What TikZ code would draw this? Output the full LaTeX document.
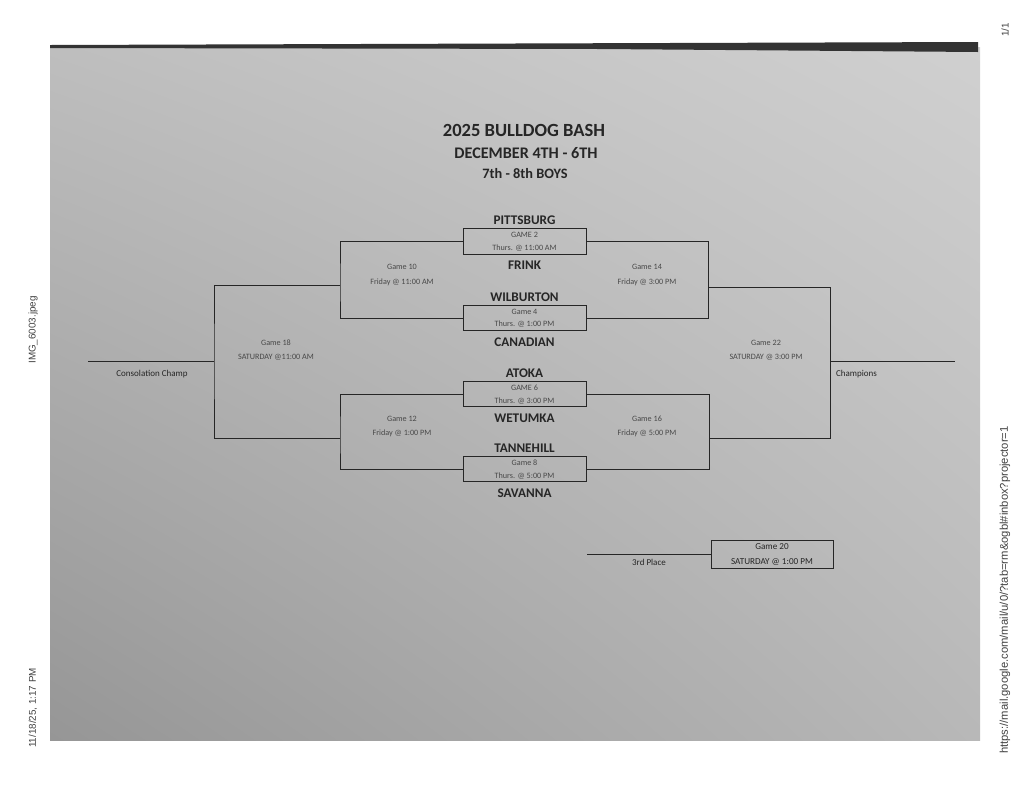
\documentclass[tikz,border=0pt]{standalone}
\usepackage{fontspec}
\setmainfont{Carlito}
\newfontfamily\arialfont{Liberation Sans}
\usetikzlibrary{positioning, shadings}
\definecolor{ink}{RGB}{38,38,38}
\definecolor{faint}{RGB}{72,72,72}
\definecolor{sheetA}{RGB}{190,190,190}
\definecolor{sheetB}{RGB}{208,208,208}
\definecolor{sheetC}{RGB}{150,150,150}
\definecolor{sheetD}{RGB}{184,184,184}
\tikzset{
  gamebox/.style={draw=ink, minimum width=3.075cm, minimum height=0.64cm, inner sep=0pt,
    align=center, text depth=-2.6pt, font=\fontsize{5.8}{9}\selectfont, text=faint},
  team/.style={font=\bfseries\fontsize{9.4}{10}\selectfont, text=ink, inner sep=1pt},
  gamelbl/.style={align=center, font=\fontsize{5.8}{10}\selectfont, text=faint},
  endlbl/.style={font=\fontsize{6.4}{8}\selectfont, text=ink},
  side/.style={font=\arialfont\fontsize{7}{8}\selectfont, rotate=90, text=black!75},
}
\begin{document}
\begin{tikzpicture}[x=0.025cm, y=-0.025cm, line width=0.5pt, node distance=1.4pt]
\useasboundingbox (0,0) rectangle (1024,791);
% the scanned sheet
\shade[upper left=sheetA, upper right=sheetB, lower left=sheetC, lower right=sheetD]
  (50,47) rectangle (980,740);
\fill[black!80] (50,45) -- (978,42) -- (978,52) -- (600,49) -- (50,48) -- cycle;

% browser print margins
\node[side] (fname) at (33,330) {IMG\_6003.jpeg};
\node[side] (stamp) at (33,708) {11/18/25, 1:17 PM};
\node[side] (pgno) at (1005,30) {1/1};
\node[side, font=\arialfont\fontsize{8}{9}\selectfont] (url) at (1005,590) {https://mail.google.com/mail/u/0/?tab=rm\&ogbl\#inbox?projector=1};

% heading
\node[font=\bfseries\fontsize{13.2}{14}\selectfont, text=ink] (title) at (524,130) {2025 BULLDOG BASH};
\node[font=\bfseries\fontsize{11.5}{12}\selectfont, text=ink] (dates) at (526,153) {DECEMBER 4TH - 6TH};
\node[font=\bfseries\fontsize{10.2}{11}\selectfont, text=ink] (group) at (525,174) {7th - 8th BOYS};

% first round
\node[gamebox] (g2) at (524.5,241.5) {GAME 2\\Thurs. @ 11:00 AM};
\node[gamebox] (g4) at (524.5,318) {Game 4\\Thurs. @ 1:00 PM};
\node[gamebox] (g6) at (524.5,394) {GAME 6\\Thurs. @ 3:00 PM};
\node[gamebox] (g8) at (524.5,469) {Game 8\\Thurs. @ 5:00 PM};
\node[team, above=of g2] (pitt) {PITTSBURG};
\node[team, below=3.3pt of g2] (frink) {FRINK};
\node[team, above=of g4] (wilb) {WILBURTON};
\node[team, below=3.3pt of g4] (cana) {CANADIAN};
\node[team, above=of g6] (atok) {ATOKA};
\node[team, below=3.3pt of g6] (wetu) {WETUMKA};
\node[team, above=of g8] (tann) {TANNEHILL};
\node[team, below=3.3pt of g8] (sava) {SAVANNA};

% later rounds
\node[gamelbl] (g10) at (402,275) {Game 10\\Friday @ 11:00 AM};
\node[gamelbl] (g14) at (647,275) {Game 14\\Friday @ 3:00 PM};
\node[gamelbl] (g12) at (402,426.5) {Game 12\\Friday @ 1:00 PM};
\node[gamelbl] (g16) at (647,426.5) {Game 16\\Friday @ 5:00 PM};
\node[gamelbl] (g18) at (276,350.5) {Game 18\\SATURDAY @11:00 AM};
\node[gamelbl] (g22) at (766,350.5) {Game 22\\SATURDAY @ 3:00 PM};

\coordinate (j10) at (340,285);
\coordinate (j12) at (340,438);
\coordinate (j14) at (708,287);
\coordinate (j16) at (709,438);
\coordinate (j18) at (214,361);
\coordinate (j22) at (830,361);
\coordinate (cons) at (88,361);
\coordinate (champ) at (955,361);

\draw[ink] (g2.west) -| (j10) |- (g4.west);
\draw[ink] (g2.east) -| (j14) |- (g4.east);
\draw[ink] (g6.west) -| (j12) |- (g8.west);
\draw[ink] (g6.east) -| (j16) |- (g8.east);
\draw[ink] (j10) -| (j18) |- (j12);
\draw[ink] (j14) -| (j22) |- (j16);
\draw[ink] (cons) -- (j18);
\draw[ink] (j22) -- (champ);
\node[endlbl] (conslbl) at (152,374) {Consolation Champ};
\node[endlbl, anchor=west] (champlbl) at (831,374) {Champions};

% third place
\node[gamebox, minimum width=3.05cm, minimum height=0.7cm, text depth=-1pt,
  font=\fontsize{6.5}{10}\selectfont, text=ink] (g20) at (772,554) {Game 20\\SATURDAY @ 1:00 PM};
\coordinate (third) at (587,554);
\draw[ink] (third) -- (g20.west);
\node[endlbl] (thirdlbl) at (649,562) {3rd Place};
\end{tikzpicture}
\end{document}
